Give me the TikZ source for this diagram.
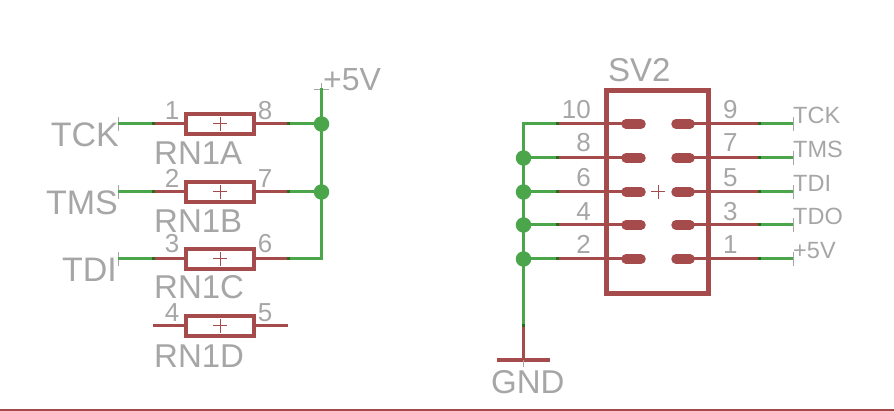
\documentclass[tikz,border=0pt]{standalone}
\usepackage{fontspec}
\setmainfont{Liberation Sans}
\definecolor{symred}{HTML}{A54B4B}
\definecolor{netgreen}{HTML}{4BA54B}
\definecolor{jointgreen}{HTML}{2B6B1E}
\definecolor{txtgrey}{HTML}{A6A6A6}
\tikzset{
	net/.style={netgreen,line width=3pt},
	pin/.style={symred,line width=3pt},
	joint/.style={jointgreen,line width=3pt},
	dot/.style={circle,fill=netgreen,minimum size=15.5pt,inner sep=0pt,outer sep=0pt},
	rbody/.style={draw=symred,line width=4.4pt,minimum width=68pt,minimum height=20pt,inner sep=0pt,outer sep=0pt},
	pad/.style={symred,line width=9.5pt,line cap=round},
	org/.style={symred,line width=1pt},
	tick/.style={txtgrey,line width=1pt},
	lbl/.style={text=txtgrey,inner sep=0pt,anchor=base west},
	big/.style={lbl,font=\fontsize{34}{34}\selectfont},
	mid/.style={lbl,font=\fontsize{33}{33}\selectfont},
	num/.style={lbl,font=\fontsize{26}{26}\selectfont},
	sig/.style={lbl,font=\fontsize{23.5}{23.5}\selectfont}
}
\begin{document}
\begin{tikzpicture}[x=1pt,y=-1pt]
	\useasboundingbox (0,0) rectangle (894,411);
	% resistor network
	\foreach \n/\y/\pa/\pb/\ny/\ry in {A/124/1/8/120/165,B/192/2/7/188/233,C/259/3/6/253/299,D/326/4/5/322/367}
	{
		\node[rbody] (rn\n) at (220,\y) {};
		\coordinate (pl\n) at (153,\y);
		\coordinate (pr\n) at (288,\y);
		\draw[pin] (pl\n) -- (rn\n);
		\draw[pin] (rn\n) -- (pr\n);
		\draw[org] (213,\y) -- (227,\y);
		\draw[org] (220,\y-7) -- (220,\y+7);
		\node[num,anchor=base] (na\n) at (172,\ny) {\pa};
		\node[num,anchor=base] (nb\n) at (265,\ny) {\pb};
		\node[mid] (nm\n) at (154,\ry) {RN1\n};
	}
	% inputs on the left
	\foreach \n/\y in {A/124,B/192,C/259}
	{
		\coordinate (in\n) at (118,\y);
		\coordinate (bus\n) at (321.5,\y);
		\draw[tick] (118,\y-7) -- (118,\y+7);
		\draw[net] (in\n) -- (pl\n);
		\draw[net] (pr\n) -- (bus\n);
		\draw[joint] (pl\n) ++(-1.5,0) -- ++(3,0);
		\draw[joint] (pr\n) ++(-1.5,0) -- ++(3,0);
	}
	\coordinate (vcc) at (321.5,90);
	\draw[tick] (321.5,83) -- (321.5,97);
	\draw[tick] (314,90) -- (329,90);
	\draw[net,line cap=rect] (vcc) -- (busC);
	\node[dot] (dotA) at (busA) {};
	\node[dot] (dotB) at (busB) {};
	\node[lbl,font=\fontsize{32}{32}\selectfont] (lvcc) at (323,91) {+5V};
	\node[big,anchor=base east] (ltck) at (119,147) {TCK};
	\node[big,anchor=base east] (ltms) at (118,215) {TMS};
	\node[big,anchor=base east] (ltdi) at (117,282) {TDI};
	% header
	\node[draw=symred,line width=5pt,minimum width=102pt,minimum height=203pt,inner sep=0pt,outer sep=0pt] (sv) at (657.5,192) {};
	\node[mid] (lsv) at (608,82) {SV2};
	\draw[org] (651,192) -- (665,192);
	\draw[org] (658,185) -- (658,199);
	\foreach \m/\y/\nb/\nbase/\sb/\sname in {a/124/10/119/9/TCK,b/158/8/152/7/TMS,c/192/6/187/5/TDI,d/225/4/221/3/TDO,e/259/2/254/1/+5V}
	{
		\coordinate (bl\m) at (523.5,\y);
		\coordinate (sl\m) at (557,\y);
		\coordinate (pa\m) at (626,\y);
		\coordinate (pe\m) at (641,\y);
		\coordinate (pf\m) at (676,\y);
		\coordinate (pg\m) at (690,\y);
		\coordinate (sr\m) at (759,\y);
		\coordinate (br\m) at (793,\y);
		\draw[pin] (sl\m) -- (pa\m);
		\draw[pin] (pg\m) -- (sr\m);
		\draw[net] (bl\m) -- (sl\m);
		\draw[net] (sr\m) -- (br\m);
		\draw[joint] (sl\m) ++(-1.5,0) -- ++(3,0);
		\draw[joint] (sr\m) ++(-1.5,0) -- ++(3,0);
		\draw[pad] (pa\m) -- (pe\m);
		\draw[pad] (pf\m) -- (pg\m);
		\draw[tick] (793,\y-7) -- (793,\y+7);
		\node[num,anchor=base east] (nl\m) at (591,\nbase) {\nb};
		\node[num] (nr\m) at (723,\nbase) {\sb};
		\node[sig] (sg\m) at (793,\y) {\sname};
	}
	% ground
	\coordinate (gj) at (523.5,326);
	\coordinate (gnd) at (523.5,360);
	\coordinate (gl) at (497,360);
	\coordinate (gr) at (550,360);
	\draw[net,line cap=rect] (bla) -- (gj);
	\draw[pin] (gj) -- (gnd);
	\draw[joint] (gj) ++(0,-1.5) -- ++(0,3);
	\draw[symred,line width=3.5pt] (gl) -- (gr);
	\draw[tick] (523.5,360) -- (523.5,367);
	\foreach \m in {b,c,d,e}
	{
		\node[dot] (dj\m) at (bl\m) {};
	}
	\node[mid] (lgnd) at (491,393) {GND};
	% bottom frame line
	\coordinate (fl) at (0,410);
	\coordinate (fr) at (894,410);
	\draw[symred,line width=1.5pt] (fl) -- (fr);
\end{tikzpicture}
\end{document}
